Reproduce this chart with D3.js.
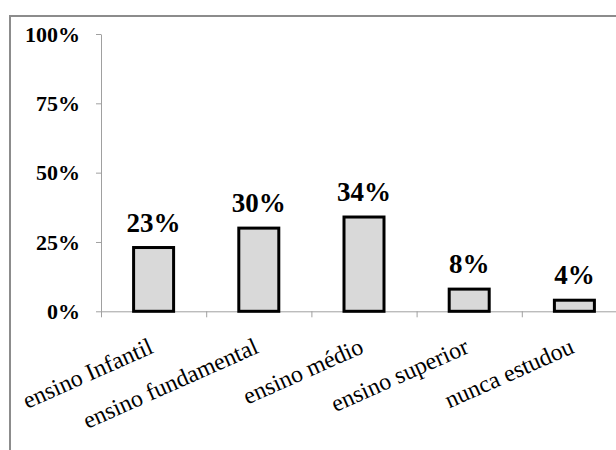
<!DOCTYPE html>
<html><head><meta charset="utf-8">
<script src="https://cdn.jsdelivr.net/npm/d3@7"></script>
<style>html,body{margin:0;padding:0;background:#fff;}svg{display:block;}</style>
</head><body>
<svg id="c" width="616" height="450"></svg>
<script>
const categories = ["ensino Infantil", "ensino fundamental", "ensino médio", "ensino superior", "nunca estudou"];
const values = [0.23, 0.30, 0.34, 0.08, 0.04];
const valueLabels = ["23%", "30%", "34%", "8%", "4%"];
const yTicks = [0, 0.25, 0.5, 0.75, 1];

const svg = d3.select("#c");
const font = "'Liberation Serif', 'Times New Roman', serif";

// outer frame (only top/left visible)
svg.append("rect").attr("x", 10).attr("y", 16).attr("width", 700).attr("height", 500)
  .attr("fill", "none").attr("stroke", "#8c8c8c").attr("stroke-width", 2);

const plotLeft = 101, plotTop = 34, plotBottom = 311.3, step = 105.2;
const x = d3.scaleBand().domain(categories).range([plotLeft, plotLeft + step * categories.length]).padding(0);
const xEdge = d3.scaleLinear().domain([0, categories.length]).range([plotLeft, plotLeft + step * categories.length]);
const y = d3.scaleLinear().domain([0, 1]).range([plotBottom, plotTop]);

// y axis
const ya = svg.append("g").attr("transform", `translate(${plotLeft},0)`)
  .call(d3.axisLeft(y).tickValues(yTicks).tickFormat(d3.format(".0%")).tickSize(5).tickSizeOuter(0).tickPadding(16));
ya.select(".domain").attr("stroke", "#a0a0a0");
ya.selectAll(".tick line").attr("stroke", "#a0a0a0");
ya.selectAll(".tick text").attr("font-family", font).attr("font-size", 22).attr("font-weight", "bold").attr("fill", "#000");

// x axis (ticks at category boundaries)
const xa = svg.append("g").attr("transform", `translate(0,${plotBottom})`)
  .call(d3.axisBottom(xEdge).tickValues(d3.range(0, categories.length + 1)).tickFormat("").tickSize(6).tickSizeOuter(0));
xa.select(".domain").attr("stroke", "#a0a0a0");
xa.selectAll(".tick line").attr("stroke", "#a0a0a0");

// category labels
svg.append("g").selectAll("text").data(categories).join("text")
  .attr("transform", d => `translate(${x(d) + x.bandwidth() / 2 + 1},${plotBottom + 41}) rotate(-24)`)
  .attr("text-anchor", "end")
  .attr("font-family", font).attr("font-size", 24).attr("fill", "#000")
  .text(d => d);

// bars
const bw = 40;
svg.append("g").selectAll("rect").data(values).join("rect")
  .attr("x", (d, i) => x(categories[i]) + x.bandwidth() / 2 - bw / 2)
  .attr("y", d => y(d))
  .attr("width", bw)
  .attr("height", d => plotBottom - y(d))
  .attr("fill", "#d9d9d9").attr("stroke", "#000").attr("stroke-width", 3);

// value labels
svg.append("g").selectAll("text").data(values).join("text")
  .attr("x", (d, i) => x(categories[i]) + x.bandwidth() / 2)
  .attr("y", d => y(d) - 16)
  .attr("text-anchor", "middle")
  .attr("font-family", font).attr("font-size", 27).attr("font-weight", "bold").attr("fill", "#000")
  .text((d, i) => valueLabels[i]);
</script>
</body></html>
